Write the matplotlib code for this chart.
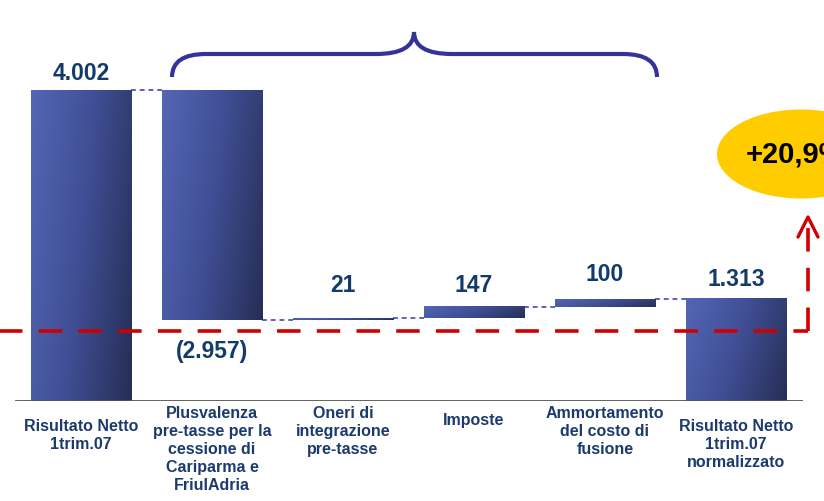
import numpy as np
import matplotlib
matplotlib.use('Agg')
import matplotlib.pyplot as plt
from matplotlib.colors import LinearSegmentedColormap
from matplotlib.patches import Ellipse
from matplotlib.path import Path
from matplotlib.patches import PathPatch

categories = ['Risultato Netto\n1trim.07',
              'Plusvalenza\npre-tasse per la\ncessione di\nCariparma e\nFriulAdria',
              'Oneri di\nintegrazione\npre-tasse',
              'Imposte',
              'Ammortamento\ndel costo di\nfusione',
              'Risultato Netto\n1trim.07\nnormalizzato']
start_value = 4002
deltas = [-2957, 21, 147, 100]
end_value = 1313
ref_level = 900          # red dashed reference line
growth_label = '+20,9%'

W, H = 824, 502
fig = plt.figure(figsize=(W / 100, H / 100), dpi=100)
fig.patch.set_facecolor('white')

k = 311 / 4002          # px per unit
ax = fig.add_axes([0, 100 / H, 1, 402 / H])
ax.set_xlim(-81 / 131, (W - 81) / 131)
ax.set_ylim(0, 402 / k)
ax.axis('off')

def px(v):
    return v / k

navy = '#123b6d'
sans = ['Liberation Sans', 'Arial', 'DejaVu Sans']
narrow = ['Liberation Sans Narrow', 'Liberation Sans', 'DejaVu Sans']

# waterfall geometry
bottoms, tops = [0], [start_value]
level = start_value
for d in deltas:
    new = level + d
    bottoms.append(min(level, new))
    tops.append(max(level, new))
    level = new
bottoms.append(0)
tops.append(end_value)

cmap = LinearSegmentedColormap.from_list('g', ['#5466b4', '#3f4e94', '#262e55'])
bw = 0.77
u = np.linspace(0, 1, 200)[None, :]
v = np.linspace(1, 0, 200)[:, None]
grad = 0.8 * u + 0.25 * (1 - v)
for i, (b, t) in enumerate(zip(bottoms, tops)):
    ax.imshow(grad, cmap=cmap, vmin=0, vmax=1.05, aspect='auto',
              extent=[i - bw / 2, i + bw / 2, b, t], zorder=2, interpolation='bilinear')
ax.set_xlim(-81 / 131, (W - 81) / 131)
ax.set_ylim(0, 402 / k)

# connectors
levels = [start_value]
level = start_value
for d in deltas:
    level += d
    levels.append(level)
for i, lv in enumerate(levels):
    ax.plot([i + bw / 2, i + 1 - bw / 2], [lv, lv], color='#6262b4',
            lw=1.4, ls=(0, (2.5, 2)), zorder=1)

# baseline
ax.plot([-0.5, 5.5], [0, 0], color='#555555', lw=1.3, zorder=3)

# red reference line and arrow
xr = (808 - 81) / 131
ax.plot([-1, xr], [ref_level, ref_level], color='#d00000', lw=2.6,
        ls=(0, (6.5, 4.5)), zorder=4)
ax.plot([xr, xr], [ref_level, px(402 - 228)], color='#d00000', lw=2.6,
        ls=(0, (6.5, 4.5)), zorder=4)
ax.plot([xr - 10 / 131, xr, xr + 10 / 131], [px(402 - 238), px(402 - 218), px(402 - 238)],
        color='#d00000', lw=2.4, zorder=4, solid_capstyle='round')

# value labels
def fmt(v):
    s = f'{abs(v):,}'.replace(',', '.')
    return f'({s})' if v < 0 else s

values = [start_value] + deltas + [end_value]
label_off = [17, None, 34, 22, 25, 20]
for i, val in enumerate(values):
    if val < 0:
        ax.text(i, bottoms[i] - px(31), fmt(val), ha='center', va='center',
                fontsize=16.5, fontweight='bold', color=navy, family=sans)
    else:
        ax.text(i, tops[i] + px(label_off[i]), fmt(val), ha='center', va='center',
                fontsize=16.5, fontweight='bold', color=navy, family=sans)

# category labels
label_top = [419, 406, 406, 413, 406, 419]
for i, c in enumerate(categories):
    fig.text((81 + 131 * i) / W, 1 - label_top[i] / H, c, ha='center', va='top',
             fontsize=11.5, fontweight='bold', color='#1b3a6e', family=narrow,
             linespacing=1.25)

# brace over adjustments
x0, x1, xc = 172, 657, 414
ye, yh, yt = 78, 55, 33
r1, r2 = 34, 38
pts = [(x0, ye), (x0, yh), (x0 + r1, yh), (xc - r2, yh), (xc, yh), (xc, yt),
       (xc, yh), (xc + r2, yh), (x1 - r1, yh), (x1, yh), (x1, ye)]
codes = [Path.MOVETO, Path.CURVE3, Path.CURVE3, Path.LINETO, Path.CURVE3, Path.CURVE3,
         Path.CURVE3, Path.CURVE3, Path.LINETO, Path.CURVE3, Path.CURVE3]
pts = [(x / W, 1 - y / H) for x, y in pts]
fig.add_artist(PathPatch(Path(pts, codes), fill=False, edgecolor='#333399', lw=3,
                         transform=fig.transFigure))

# growth bubble
fig.add_artist(Ellipse((801 / W, 1 - 155 / H), 168 / W, 89 / H, transform=fig.transFigure,
                       facecolor='#ffcc00', edgecolor='none'))
fig.text(746 / W, 1 - 155 / H, growth_label, ha='left', va='center', fontsize=21,
         fontweight='bold', color='black', family=sans)

fig.savefig('out.png', dpi=100, facecolor='white')
